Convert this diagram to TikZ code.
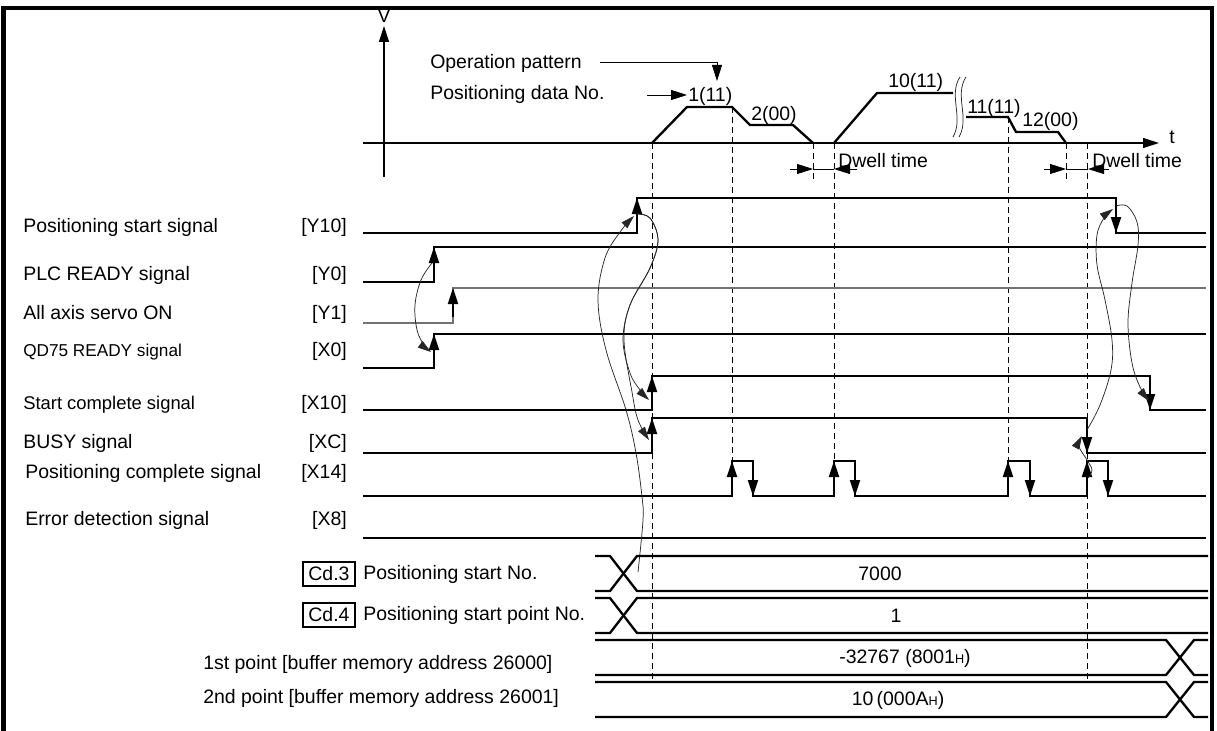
\documentclass[tikz,border=0pt]{standalone}
\usepackage{fontspec}
\setmainfont{Liberation Sans}
\usetikzlibrary{arrows.meta}
\begin{document}
\begin{tikzpicture}[x=0.75pt,y=-0.75pt,
  sig/.style={line width=1.75pt,line join=miter},
  graysig/.style={line width=1.1pt,black!55},
  axisl/.style={line width=0.9pt},
  dashv/.style={line width=0.7pt,dash pattern=on 4.5pt off 3pt},
  curv/.style={line width=0.55pt,black!85},
  tipA/.style={-{Triangle[length=12pt,width=7.5pt]}},
  tipB/.style={-{Triangle[length=10pt,width=6pt]}},
  txt/.style={font=\fontsize{14.6}{16}\selectfont,inner sep=0pt},
  txts/.style={font=\fontsize{12.9}{14}\selectfont,inner sep=0pt},
  txtm/.style={font=\fontsize{13.8}{15}\selectfont,inner sep=0pt},
  cdbox/.style={draw,line width=0.8pt,minimum width=39pt,minimum height=18pt,inner sep=0pt,font=\fontsize{14.6}{16}\selectfont}]
\useasboundingbox (0,0) rectangle (1217,731);
% frame
\draw[line width=3.4pt] (3.5,731) -- (3.5,8) -- (1212,8) -- (1212,731);

% axes
\coordinate (vb) at (384,177); \coordinate (vt) at (384,26);
\coordinate (tl) at (363,143); \coordinate (tr) at (1159,143);
\draw[axisl,tipA] (vb) -- (vt);
\draw[axisl,tipA] (tl) -- (tr);
\node[txt] (vlab) at (384,16) {V};
\node[txt] (tlab) at (1172,137) {t};

% operation pattern / positioning data No.
\node[txt,anchor=base west] (oplab) at (430,69) {Operation pattern};
\node[txt,anchor=base west] (pdlab) at (430,100) {Positioning data No.};
\coordinate (op1) at (600,62); \coordinate (op2) at (717,62); \coordinate (op3) at (717,81);
\draw[line width=0.6pt,tipA] (op1) -- (op2) -- (op3);
\coordinate (pd1) at (647,95); \coordinate (pd2) at (687,95);
\draw[line width=0.6pt,tipA] (pd1) -- (pd2);

% speed profile
\draw[sig] (652,143) -- (687,107) -- (732,107) -- (750,125) -- (793,125) -- (813,143);
\draw[sig] (834,143) -- (877,93) -- (953,93);
\draw[sig] (966,117) -- (1008,117) -- (1016,132) -- (1058,132) -- (1066,143);
\draw[curv] (960,77) .. controls (948,95) and (964,118) .. (953,137);
\draw[curv] (966,77) .. controls (954,95) and (970,118) .. (959,137);
\node[txt,anchor=base west] (p1) at (688,102) {1(11)};
\node[txt,anchor=base west] (p2) at (751,121) {2(00)};
\node[txt,anchor=base west] (p10) at (888,88) {10(11)};
\node[txt,anchor=base west] (p11) at (967,114) {11(11)};
\node[txt,anchor=base west] (p12) at (1022,127) {12(00)};

% dashed time markers
\draw[dashv] (652,143) -- (652,682);
\draw[dashv] (732,107) -- (732,461);
\draw[dashv] (834,143) -- (834,461);
\draw[dashv] (1008,117) -- (1008,461);
\draw[dashv] (1087,143) -- (1087,682);
\draw[dashv] (813,143) -- (813,182);
\draw[dashv] (1066,143) -- (1066,182);

% dwell time
\draw[line width=0.6pt] (813,169) -- (834,169);
\draw[line width=0.6pt,tipA] (790,169) -- (813,169);
\draw[line width=0.6pt,tipA] (857,169) -- (834,169);
\node[txt,anchor=base west] (dw1) at (838,168) {Dwell time};
\draw[line width=0.6pt] (1066,169) -- (1088,169);
\draw[line width=0.6pt,tipA] (1044,169) -- (1066,169);
\draw[line width=0.6pt,tipA] (1109,169) -- (1088,169);
\node[txt,anchor=base west] (dw2) at (1092,168) {Dwell time};

% signal labels
\node[txt,anchor=base west] (l1) at (23,232) {Positioning start signal};
\node[txt,anchor=base west] (l2) at (23,280) {PLC READY signal};
\node[txt,anchor=base west] (l3) at (23,319) {All axis servo ON};
\node[txts,anchor=base west] (l4) at (23,356) {QD75 READY signal};
\node[txtm,anchor=base west] (l5) at (23,409) {Start complete signal};
\node[txt,anchor=base west] (l6) at (23,448) {BUSY signal};
\node[txt,anchor=base west] (l7) at (25,478) {Positioning complete signal};
\node[txt,anchor=base west] (l8) at (25,525) {Error detection signal};
\node[txt,anchor=base east] (b1) at (347,232) {[Y10]};
\node[txt,anchor=base east] (b2) at (347,280) {[Y0]};
\node[txt,anchor=base east] (b3) at (347,319) {[Y1]};
\node[txt,anchor=base east] (b4) at (347,356) {[X0]};
\node[txt,anchor=base east] (b5) at (347,409) {[X10]};
\node[txt,anchor=base east] (b6) at (347,448) {[XC]};
\node[txt,anchor=base east] (b7) at (347,478) {[X14]};
\node[txt,anchor=base east] (b8) at (347,525) {[X8]};

% waveforms
\draw[sig] (363,233) -- (637,233) -- (637,198) -- (1116,198) -- (1116,233) -- (1206,233);
\draw[sig] (363,282) -- (434,282) -- (434,247) -- (1206,247);
\draw[graysig] (363,323) -- (453,323) -- (453,288) -- (1206,288);
\draw[sig] (363,368) -- (434,368) -- (434,334) -- (1206,334);
\draw[sig] (363,410) -- (652,410) -- (652,376) -- (1150,376) -- (1150,410) -- (1206,410);
\draw[sig] (363,453) -- (652,453) -- (652,418) -- (1087,418) -- (1087,453) -- (1206,453);
\draw[sig] (363,496) -- (732,496) -- (732,461) -- (753,461) -- (753,496) -- (834,496) -- (834,461) -- (855,461) -- (855,496)
  -- (1008,496) -- (1008,461) -- (1030,461) -- (1030,496) -- (1087,496) -- (1087,461) -- (1108,461) -- (1108,496) -- (1206,496);
\draw[sig] (363,538) -- (1206,538);

% edge arrows
\foreach \x/\lo/\hi in {637/233/198, 434/282/247, 453/323/288, 434/368/334, 652/410/376, 652/453/418,
  732/496/461, 834/496/461, 1008/496/461, 1087/496/461}
  \draw[line width=1.4pt,tipA] (\x,\lo-6) -- (\x,\hi);
\foreach \x/\hi/\lo in {1116/198/233, 1150/376/410, 1087/418/453, 753/461/496, 855/461/496, 1030/461/496, 1108/461/496}
  \draw[line width=1.4pt,tipA] (\x,\hi+6) -- (\x,\lo);

% causal curves
\draw[curv,tipB] plot[smooth,tension=0.6] coordinates {(638,572) (643,520) (642,497) (636,453) (626,410) (606,350) (598,300) (605,258) (620,232) (634,216)};
\draw[curv,tipB] plot[smooth,tension=0.6] coordinates {(637,214) (650,218) (658,240) (650,268) (630,305) (623,340) (630,373) (640,390) (649,400)};
\draw[curv,tipB] plot[smooth,tension=0.6] coordinates {(637,214) (650,218) (658,240) (650,268) (630,305) (624,340) (632,392) (638,420) (649,440)};
\draw[curv,tipB] plot[smooth,tension=0.6] coordinates {(432,263) (421,280) (415,305) (417,330) (424,345) (431,352)};
\draw[curv,tipB] plot[smooth,tension=0.6] coordinates {(1116,206) (1127,206) (1137,222) (1138,245) (1132,283) (1128,323) (1132,363) (1140,387) (1149,401)};
\draw[curv,tipB] plot[smooth,tension=0.6] coordinates {(1087,430) (1100,405) (1111,370) (1112,340) (1105,300) (1097,265) (1097,235) (1104,218) (1113,209)};
\draw[curv,tipB] plot[smooth,tension=0.6] coordinates {(1088,478) (1092,470) (1087,460) (1080,449) (1079,443) (1082,436)};

% data rows
\draw[sig] (595,556) -- (610,556) -- (637,591) -- (1208,591);
\draw[sig] (595,591) -- (610,591) -- (637,556) -- (1208,556);
\draw[sig] (595,598) -- (610,598) -- (637,633) -- (1208,633);
\draw[sig] (595,633) -- (610,633) -- (637,598) -- (1208,598);
\draw[sig] (595,640) -- (1166,640) -- (1194,675) -- (1208,675);
\draw[sig] (595,675) -- (1166,675) -- (1194,640) -- (1208,640);
\draw[sig] (595,682) -- (1166,682) -- (1194,717) -- (1208,717);
\draw[sig] (595,717) -- (1166,717) -- (1194,682) -- (1208,682);

\node[cdbox] (cd3) at (329,574) {Cd.3};
\node[cdbox] (cd4) at (329,615) {Cd.4};
\node[txt,anchor=west] (cd3t) at (363,574) {Positioning start No.};
\node[txt,anchor=west] (cd4t) at (363,615) {Positioning start point No.};
\node[txt,anchor=base west] (pt1) at (203,669) {1st point [buffer memory address 26000]};
\node[txt,anchor=base west] (pt2) at (203,703) {2nd point [buffer memory address 26001]};

\node[txt] (v1) at (880,574) {7000};
\node[txt] (v2) at (896,616) {1};
\node[txt] (v3) at (905,658) {-32767 (8001{\fontsize{9.5}{10}\selectfont H})};
\node[txt] (v4) at (898,700) {10\,(000A{\fontsize{9.5}{10}\selectfont H})};
\end{tikzpicture}
\end{document}
